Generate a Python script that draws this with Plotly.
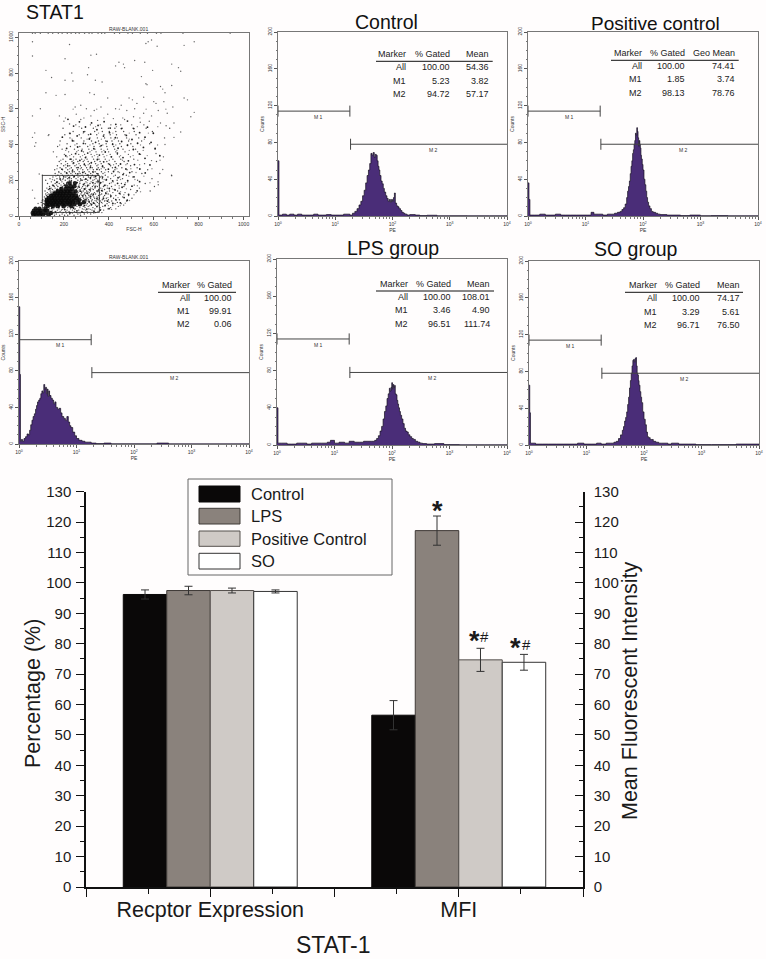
import math
import plotly.graph_objects as go

W, H = 766, 959
FONT = "Liberation Sans"

# ---------- bar chart data ----------
GROUPS = ["Recptor Expression", "MFI"]
GROUP_POS = [1, 2]
BAR_NAMES = ["Control", "LPS", "Positive Control", "SO"]
VAL_CONTROL = [96.2, 56.5]
VAL_LPS = [97.5, 117.2]
VAL_POSITIVE = [97.5, 74.7]
VAL_SO = [97.2, 73.9]
ERR_CONTROL = [1.5, 4.8]
ERR_LPS = [1.4, 4.8]
ERR_POSITIVE = [0.8, 3.8]
ERR_SO = [0.5, 2.6]
BAR_TICKS = list(range(0, 131, 10))

# ---------- histogram data: (PE, counts) ----------
HIST_CONTROL = [(1,60),(1.04,1),(1.2,2),(1.4,1),(1.6,2),(1.9,1),(2.2,2),(2.6,1),(3,1),(3.6,1),(4.2,2),(5,1),(6,1),(7,1.5),(8.5,1),(10,1),(12,1),(14,2),(16,2),(18,1),(20,3),(22,5),(24,8),(26,12),(28,16),(30,22),(32,28),(34,36),(36,44),(38,50),(40,57),(42,68),(44,66),(46,69),(48,64),(50,67),(52,66),(54,60),(56,54),(58,50),(60,44),(63,38),(66,35),(69,30),(72,26),(76,22),(80,19),(84,16),(88,18),(92,15),(96,18),(100,16),(104,20),(108,25),(112,14),(118,11),(124,10),(130,8),(138,6),(146,4),(155,3),(165,2),(180,1),(200,1.5),(250,1),(300,0.5),(400,0.8),(600,0.3),(1000,0.4),(2000,0.3),(5000,0.3),(10000,0)]
HIST_POSITIVE = [(1,36),(1.04,18),(1.08,1),(1.3,1),(1.6,2),(2,1),(2.5,1),(3,2),(3.7,1),(4.5,1),(5.5,1),(7,1),(9,1),(11,1),(12.5,4),(14,2),(17,2),(20,1),(24,2),(28,2),(32,3),(36,4),(40,5),(43,7),(46,9),(49,13),(52,20),(54,27),(56,32),(58,38),(60,46),(62,54),(64,60),(66,68),(68,72),(70,78),(72,82),(74,90),(76,88),(78,96),(80,92),(82,85),(84,76),(86,82),(88,78),(90,74),(92,66),(94,62),(97,56),(100,50),(104,40),(108,34),(112,27),(116,20),(120,15),(125,11),(132,8),(140,5),(150,4),(165,3),(180,2),(200,1.5),(260,1),(320,1),(450,0.5),(650,1),(1000,0.4),(1500,0.5),(3000,0.3),(10000,0)]
HIST_BLANK = [(1,150),(1.03,76),(1.06,3),(1.1,5),(1.15,3),(1.22,6),(1.3,8),(1.38,11),(1.46,10),(1.53,15),(1.6,21),(1.68,26),(1.76,30),(1.85,33),(1.94,38),(2.02,42),(2.1,46),(2.2,48),(2.3,50),(2.4,55),(2.5,58),(2.6,56),(2.7,65),(2.8,60),(2.9,62),(3,55),(3.1,60),(3.2,52),(3.3,58),(3.4,53),(3.6,50),(3.8,48),(4,44),(4.2,46),(4.4,40),(4.7,38),(5,39),(5.3,34),(5.6,30),(6,28),(6.4,26),(6.8,30),(7.2,24),(7.6,20),(8,18),(8.6,13),(9.3,9),(10,6),(11,4),(12.5,3),(14,2),(16,2),(18,1),(22,0.5),(30,1),(40,0.3),(100,0.3),(250,1),(400,0.2),(10000,0)]
HIST_LPS = [(1,40),(1.04,2),(1.2,2),(1.5,1),(1.8,1),(2.2,2),(2.7,2),(3.3,1),(4,2),(5,2),(6,2),(7.5,3),(8.5,5),(10,2),(12,3),(15,2),(18,4),(22,3),(27,3),(32,4),(38,4),(44,4),(50,5),(54,7),(58,10),(62,15),(66,20),(70,28),(74,36),(78,42),(82,50),(86,55),(90,61),(93,58),(96,62),(99,67),(102,60),(105,65),(108,62),(111,64),(114,55),(118,54),(122,48),(126,44),(130,40),(135,36),(140,32),(147,28),(155,23),(163,18),(172,15),(182,14),(192,11),(205,9),(220,7),(235,6),(255,4),(280,3),(307,2),(340,1.5),(400,1),(550,1.5),(800,0.5),(1500,0.3),(4000,0.3),(10000,0)]
HIST_SO = [(1,65),(1.03,35),(1.06,2),(1.3,1),(1.7,1),(2.2,1),(3,1),(4,1),(5,1),(7,2),(9,1),(12,1),(15,2),(18,1),(22,2),(26,2),(30,3),(33,4),(36,7),(39,11),(42,16),(44,20),(46,26),(48,30),(50,36),(52,44),(54,52),(56,62),(58,70),(60,78),(62,86),(64,92),(66,93),(68,90),(70,94),(72,95),(74,86),(76,78),(78,76),(80,70),(82,65),(85,58),(88,52),(91,46),(95,36),(100,28),(105,22),(110,14),(115,9),(120,8),(128,6),(137,6),(145,4),(160,3),(180,2),(200,2),(260,1),(300,2),(400,1),(600,1),(800,0.5),(1500,0.5),(4000,1),(10000,0)]

# marker gates (PE limits, count level)
M1_RANGE = [1, 18]
M2_RANGE = [18.5, 10000]
M1_LEVEL = 114
M2_LEVEL = 78
M1_LABEL = (5.2, 108)
M2_LABEL = (512, 72)

# ---------- statistics tables ----------
STATS_CONTROL = [["Marker", "% Gated", "Mean"], ["All", "100.00", "54.36"], ["M1", "5.23", "3.82"], ["M2", "94.72", "57.17"]]
STATS_POSITIVE = [["Marker", "% Gated", "Geo Mean"], ["All", "100.00", "74.41"], ["M1", "1.85", "3.74"], ["M2", "98.13", "78.76"]]
STATS_BLANK = [["Marker", "% Gated"], ["All", "100.00"], ["M1", "99.91"], ["M2", "0.06"]]
STATS_LPS = [["Marker", "% Gated", "Mean"], ["All", "100.00", "108.01"], ["M1", "3.46", "4.90"], ["M2", "96.51", "111.74"]]
STATS_SO = [["Marker", "% Gated", "Mean"], ["All", "100.00", "74.17"], ["M1", "3.29", "5.61"], ["M2", "96.71", "76.50"]]

# ---------- FSC/SSC dot plot ----------
GATE_FSC = [104, 358, 358, 104, 104]
GATE_SSC = [20, 20, 227, 227, 20]
# darkest core, by SSC row: FSC values
CORE_ROWS = {
    6: [64, 76, 93, 107, 131],
    17: [61, 72, 86, 99, 118, 142],
    29: [66, 83, 97, 112, 126],
    41: [74, 91, 118],
    55: [128, 151, 172, 199, 233],
    66: [122, 137, 149, 163, 178, 194, 211, 226, 247, 271],
    77: [127, 141, 156, 168, 183, 197, 214, 229, 241, 262, 289],
    89: [124, 136, 149, 161, 175, 188, 203, 217, 232, 249, 268],
    101: [131, 146, 158, 172, 186, 199, 213, 226, 243, 258],
    113: [143, 155, 167, 181, 194, 208, 223, 237, 254],
    126: [158, 171, 184, 197, 211, 226, 243],
    138: [172, 186, 201, 216, 229, 252],
    151: [189, 207, 223, 238],
    167: [213, 231, 247],
    184: [226, 249],
}
# medium density cloud, by SSC row: FSC values
CLOUD_ROWS = {
    4: [139, 158, 181, 203, 217, 245, 274],
    11: [147, 166, 192, 226, 262, 291, 319],
    19: [135, 152, 174, 197, 231, 255, 288, 341, 369],
    26: [142, 161, 183, 208, 223, 247, 279, 303, 352],
    33: [129, 148, 171, 189, 214, 238, 266, 297, 325, 377],
    40: [137, 155, 178, 201, 229, 251, 282, 311, 338, 396, 431],
    47: [108, 149, 166, 192, 217, 243, 271, 294, 329, 361, 408],
    54: [114, 141, 181, 219, 258, 286, 308, 347, 373, 442],
    61: [103, 118, 251, 276, 299, 322, 341, 384, 417, 466],
    69: [109, 126, 283, 304, 318, 337, 356, 392, 428, 455],
    76: [99, 121, 277, 296, 313, 331, 349, 367, 401, 438],
    84: [112, 118, 285, 302, 323, 344, 362, 381, 413, 479],
    91: [106, 119, 277, 291, 309, 326, 352, 371, 398, 447],
    99: [117, 127, 272, 288, 303, 319, 337, 358, 389, 421, 503],
    107: [113, 129, 268, 284, 298, 316, 333, 347, 376, 408, 462],
    115: [122, 136, 269, 281, 296, 311, 329, 354, 381, 431, 488],
    123: [119, 133, 147, 259, 276, 292, 307, 323, 341, 368, 397, 451],
    131: [126, 142, 153, 263, 279, 294, 313, 336, 359, 386, 418, 472, 521],
    140: [116, 139, 156, 166, 268, 286, 301, 318, 346, 372, 403, 439, 584],
    148: [131, 149, 168, 178, 255, 272, 293, 312, 331, 354, 381, 424, 497],
    156: [124, 143, 161, 181, 261, 279, 297, 319, 338, 364, 393, 446, 536],
    165: [136, 157, 173, 193, 264, 283, 304, 327, 349, 376, 412, 467, 603],
    173: [149, 168, 187, 203, 267, 289, 311, 333, 358, 386, 428, 513],
    182: [127, 161, 179, 199, 212, 271, 292, 316, 339, 362, 403, 456, 562],
    191: [144, 172, 191, 217, 271, 298, 321, 344, 374, 419, 484, 619],
    200: [119, 158, 186, 206, 224, 262, 282, 306, 329, 351, 388, 437, 528],
    209: [138, 169, 197, 216, 233, 254, 274, 297, 318, 343, 371, 408, 461, 592],
    218: [151, 181, 208, 226, 243, 263, 287, 309, 334, 362, 396, 448, 507],
    228: [104, 173, 193, 219, 237, 258, 281, 302, 327, 353, 384, 429, 478, 679],
    238: [161, 187, 213, 231, 252, 272, 296, 319, 346, 374, 413, 466, 547, 627],
    248: [177, 204, 224, 246, 268, 291, 312, 339, 367, 398, 441, 503],
    259: [159, 194, 217, 239, 261, 284, 306, 331, 358, 386, 427, 481, 573],
    270: [183, 209, 233, 256, 278, 301, 326, 353, 379, 416, 458, 526],
    281: [171, 199, 226, 249, 273, 296, 319, 347, 372, 408, 443, 497],
    293: [188, 216, 241, 267, 291, 314, 341, 366, 398, 433, 482, 559],
    305: [179, 208, 236, 262, 286, 308, 337, 361, 391, 427, 468, 612],
    318: [196, 226, 254, 279, 303, 332, 356, 384, 418, 453, 511],
    331: [168, 214, 243, 273, 298, 326, 351, 379, 412, 447, 496, 643],
    345: [202, 234, 266, 292, 321, 347, 374, 406, 438, 487, 541],
    359: [153, 221, 257, 287, 316, 343, 369, 399, 431, 472, 528],
    374: [192, 247, 281, 311, 338, 366, 394, 426, 463, 519, 606],
    389: [172, 229, 271, 306, 334, 361, 391, 422, 456, 507],
    404: [214, 258, 296, 329, 357, 388, 417, 449, 498, 582],
    420: [183, 244, 289, 323, 354, 386, 414, 443, 488, 546],
    437: [227, 277, 316, 349, 381, 409, 438, 479, 533, 648],
    455: [133, 204, 268, 309, 346, 378, 406, 434, 472, 521],
    473: [241, 293, 337, 371, 402, 431, 466, 513, 594],
    491: [196, 279, 331, 368, 398, 427, 459, 508, 566, 671],
    510: [253, 318, 362, 409, 453, 502, 556],
}
# fainter grey dots filling the same cloud, by SSC row: FSC values
HAZE_ROWS = {
    15: [156, 211, 238, 272, 305, 333],
    37: [118, 193, 247, 289, 318, 364, 412],
    58: [136, 207, 268, 314, 352, 398, 451],
    72: [113, 174, 289, 325, 371, 416, 473],
    87: [103, 297, 338, 388, 433, 492],
    103: [138, 276, 308, 351, 396, 441],
    119: [128, 287, 318, 362, 407, 467, 512],
    136: [147, 279, 307, 349, 392, 452, 541],
    152: [137, 171, 288, 326, 371, 416, 478],
    169: [155, 199, 296, 342, 394, 446, 527],
    186: [169, 222, 303, 351, 411, 474, 583],
    204: [149, 194, 291, 336, 379, 452, 516],
    223: [164, 214, 271, 323, 368, 421, 489, 556],
    243: [178, 238, 284, 331, 382, 447, 521],
    264: [169, 226, 273, 316, 366, 436, 498, 592],
    287: [207, 256, 308, 352, 421, 476, 537],
    312: [186, 242, 291, 348, 402, 461, 529, 628],
    338: [226, 283, 336, 391, 452, 508, 571],
    367: [208, 264, 324, 378, 436, 491, 553],
    397: [181, 249, 316, 373, 431, 483, 541, 617],
    430: [236, 303, 367, 424, 491, 558],
    464: [224, 286, 354, 418, 491, 576],
    500: [268, 341, 434, 527, 618],
    548: [207, 289, 378, 462, 538],
    598: [241, 346, 447, 566, 654],
}
# irregular dark specks inside and just above the gate, as (FSC, SSC)
SPECKS = [(112,31),(131,58),(118,83),(146,43),(163,22),(177,49),(204,36),(226,17),(258,29),(243,44),(281,22),(302,39),(334,27),
          (347,53),(323,64),(291,58),(312,81),(333,72),(276,68),(298,93),(347,97),(319,109),(284,113),(303,128),(331,122),(352,141),
          (274,139),(292,151),(316,147),(339,163),(268,162),(287,177),(306,171),(329,186),(352,193),(259,187),(276,201),(298,206),
          (318,214),(341,221),(233,197),(214,186),(203,173),(186,159),(171,147),(158,132),(143,121),(128,108),(119,96),(137,153),
          (152,171),(168,189),(183,207),(199,219),(223,214),(246,221),(262,236),(284,244),(307,229),(329,247),(351,236),(372,218),
          (389,203),(364,187),(381,171),(402,154),(368,142),(387,126),(409,112),(376,98),(394,83),(418,71),(383,58),(401,41),(362,33),
          (431,92),(447,127),(428,146),(459,161),(439,183),(417,197),(441,214),(463,232),(421,249),(398,262),(372,277),(347,261),
          (318,273),(291,288),(263,271),(238,252),(212,241),(191,262),(217,281),(243,297),(271,311),(296,327),(322,298),(349,317),
          (377,303),(403,289),(429,272),(452,291),(476,263),(493,243),(512,219),(537,192),(484,198),(471,176),(503,167),(526,141),
          (488,121),(468,103),(451,74),(482,88),(231,318),(208,337),(252,349),(279,364),(306,352),(333,377),(358,341),(384,358),
          (411,331),(438,352),(463,327),(487,309),(514,288),(538,263),(562,241),(441,379),(417,401),(392,418),(366,394),(341,412),
          (313,431),(287,406),(261,386),(238,421),(212,378),(193,441),(227,462),(259,448),(288,471),(319,458),(347,483),(376,447),
          (403,466),(429,438),(457,417),(483,396),(509,372),(536,347),(561,323),(583,286),(478,451),(503,428),(528,407),(554,384),
          (456,489),(431,513),(406,492),(379,528),(352,507),(323,521),(296,498),(269,527),(243,503),(218,541),(483,531),(511,489),
          (537,466),(561,441),(588,412),(606,378),(627,337),(572,497),(598,463)]

CORE_X = [x for row in CORE_ROWS.values() for x in row]
CORE_Y = [y for y, row in CORE_ROWS.items() for _ in row]
CLOUD_X = [x for row in CLOUD_ROWS.values() for x in row]
CLOUD_Y = [y for y, row in CLOUD_ROWS.items() for _ in row]
HAZE_X = [x for row in HAZE_ROWS.values() for x in row]
HAZE_Y = [y for y, row in HAZE_ROWS.items() for _ in row]
# sparse outliers as (FSC, SSC)
SPARSE = [(60,975),(225,960),(320,900),(345,905),(60,895),(205,880),(575,975),(590,985),(615,950),(565,965),(735,955),(780,975),
          (120,815),(145,775),(235,800),(205,760),(240,755),(310,830),(305,790),(340,760),(370,750),(430,840),(445,860),(465,850),
          (470,830),(515,870),(560,860),(595,815),(680,850),(710,830),(720,810),(545,780),(565,740),(570,735),(630,725),(640,710),
          (680,730),(650,690),(120,690),(165,675),(205,680),(315,690),(335,680),(395,660),(490,660),(505,650),(525,630),(555,665),
          (600,640),(610,630),(645,640),(735,660),(750,650),(685,610),(95,600),(60,560),(780,580),(765,555),(250,610),(275,620),
          (255,570),(275,540),(180,560),(200,530),(225,515),(300,600),(335,590),(365,610),(395,570),(430,600),(455,620),(480,590),
          (515,600),(555,575),(590,560),(620,590),(660,575),(690,520),(320,560),(350,535),(420,545),(470,540),(510,555),(540,525),
          (580,530),(630,520),(655,505),(70,465),(60,440),(75,410),(130,450),(70,390),(90,235),(60,145),(70,100),(85,70),(680,225),
          (620,175),(640,260),(590,310),(610,350),(650,400),(690,440),(720,470),
          (60,1022),(72,1022),(95,1022),(130,1022),(150,1022),(175,1022),(192,1022),(215,1022),(232,1022),(252,1022),(268,1022),
          (292,1022),(312,1022),(325,1022),(352,1022),(368,1022),(382,1022),(425,1022),(448,1022),(485,1022),(505,1022),(540,1022),
          (572,1022),(612,1022),(632,1022),(730,1022),(940,1022)]

# ---------- layout constants (pixels) ----------
PANELS = {
    "scatter": (19, 249, 33, 216),
    "control": (278, 507, 32, 216),
    "positive": (528, 758, 32, 216),
    "blank": (19, 249, 261, 444),
    "lps": (277, 507, 259, 445),
    "so": (529, 759, 261, 445),
}
BAR_BOX = (86, 583, 491.7, 887)
FRAME = "#777777"
PURPLE = "#4a2d78"
PAPER = "#fffdfd"
LEGEND_BOX = (188, 392, 479, 575)
LEGEND_SWATCH_X = (199, 240)
LEGEND_ROWS = [(486, 502), (508.3, 524), (531, 546.3), (553.3, 569)]
LEGEND_TEXT_X = 250


def fx(p):
    return p / W


def fy(p):
    return 1 - p / H


def note(px, py, text, size, anchor="center", color="#1a1a1a", angle=0):
    return dict(text=text, x=fx(px), y=fy(py), xref="paper", yref="paper", showarrow=False,
                xanchor=anchor, yanchor="middle", textangle=angle, borderpad=0,
                font=dict(family=FONT, size=size, color=color))


fig = go.Figure()
layout = dict(width=W, height=H, margin=dict(l=0, r=0, t=0, b=0, autoexpand=False), paper_bgcolor=PAPER,
              plot_bgcolor="rgba(0,0,0,0)", font=dict(family=FONT), barmode="group", bargap=0.3, bargroupgap=0,
              showlegend=False)
annotations, shapes = [], []


def axis_common():
    return dict(showgrid=False, zeroline=False, showline=True, linecolor=FRAME, linewidth=1, mirror=True,
                ticks="outside", ticklen=3, tickwidth=1, tickcolor="#555555", automargin=False,
                tickfont=dict(size=5, color="#333333", family=FONT))


def set_axes(n, box, xtitle, ytitle, xextra, yextra):
    l, r, t, b = box
    xa = axis_common()
    xa.update(domain=[fx(l), fx(r)], anchor=f"y{n}", title=dict(text=xtitle, standoff=1, font=dict(size=5, color="#333333")))
    xa.update(xextra)
    ya = axis_common()
    ya.update(domain=[fy(b), fy(t)], anchor=f"x{n}", tickangle=-90, title=dict(text=ytitle, standoff=2, font=dict(size=5, color="#333333")))
    ya.update(yextra)
    layout[f"xaxis{n}"] = xa
    layout[f"yaxis{n}"] = ya


# dot plot
fig.add_trace(go.Scatter(x=HAZE_X, y=HAZE_Y, mode="markers", xaxis="x1", yaxis="y1",
                         marker=dict(size=1.4, color="#8a8a8a"), showlegend=False))
fig.add_trace(go.Scatter(x=[p[0] for p in SPARSE], y=[p[1] for p in SPARSE], mode="markers", xaxis="x1", yaxis="y1",
                         marker=dict(size=1.4, color="#666666"), showlegend=False))
fig.add_trace(go.Scatter(x=CLOUD_X, y=CLOUD_Y, mode="markers", xaxis="x1", yaxis="y1",
                         marker=dict(size=1.4, color="#4a4a4a"), showlegend=False))
fig.add_trace(go.Scatter(x=[p[0] for p in SPECKS], y=[p[1] for p in SPECKS], mode="markers", xaxis="x1", yaxis="y1",
                         marker=dict(size=1.8, color="#222222"), showlegend=False))
fig.add_trace(go.Scatter(x=CORE_X, y=CORE_Y, mode="markers", xaxis="x1", yaxis="y1",
                         marker=dict(size=4.4, color="#0a0a0a", opacity=0.9), showlegend=False))
fig.add_trace(go.Scatter(x=GATE_FSC, y=GATE_SSC, mode="lines", xaxis="x1", yaxis="y1",
                         line=dict(color="#222222", width=0.8), showlegend=False))
set_axes(1, PANELS["scatter"], "FSC-H", "SSC-H",
         dict(range=[0, 1024], tickvals=[0, 200, 400, 600, 800, 1000], minor=dict(dtick=50, ticks="outside", ticklen=1.5, tickcolor="#777777")),
         dict(range=[0, 1024], tickvals=[0, 200, 400, 600, 800, 1000], minor=dict(dtick=50, ticks="outside", ticklen=1.5, tickcolor="#777777")))

DECADES = [1, 10, 100, 1000, 10000]
MINOR_PE = [d * k for d in DECADES[:-1] for k in range(2, 10)]
COUNT_TICKS = [0, 40, 80, 120, 160, 200]

PANEL_DATA = [
    (2, "control", HIST_CONTROL, STATS_CONTROL, (407.3, 450.7, 490), (53.7, 67, 80.7, 94), (61.3, 376, 492.7)),
    (3, "positive", HIST_POSITIVE, STATS_POSITIVE, (643.3, 686, 736), (52.7, 66, 79.3, 92.7), (60.3, 611, 738.7)),
    (4, "blank", HIST_BLANK, STATS_BLANK, (191, 233), (284.7, 298, 311, 324.3), (292.3, 158, 236)),
    (5, "lps", HIST_LPS, STATS_LPS, (408.7, 452, 491.3), (283.7, 297, 310.3, 323.5), (291, 376, 494)),
    (6, "so", HIST_SO, STATS_SO, (657.7, 701, 740.7), (285, 298.3, 311.7, 324.7), (292.3, 625, 743)),
]

for n, key, hist, stats, cols, rows, rule in PANEL_DATA:
    xa, ya = f"x{n}", f"y{n}"
    fig.add_trace(go.Scatter(x=[p[0] for p in hist], y=[p[1] for p in hist], mode="lines", xaxis=xa, yaxis=ya,
                             line=dict(color="#15101f", width=0.7, shape="hv"), fill="tozeroy", fillcolor=PURPLE,
                             showlegend=False))
    for rng, lvl, end in ((M1_RANGE, M1_LEVEL, M1_RANGE[1]), (M2_RANGE, M2_LEVEL, M2_RANGE[0])):
        fig.add_trace(go.Scatter(x=rng, y=[lvl, lvl], mode="lines", xaxis=xa, yaxis=ya,
                                 line=dict(color="#444444", width=1), showlegend=False))
        fig.add_trace(go.Scatter(x=[end, end], y=[lvl - 6, lvl + 6], mode="lines", xaxis=xa, yaxis=ya,
                                 line=dict(color="#444444", width=1), showlegend=False))
    fig.add_trace(go.Scatter(x=[1, 1], y=[M1_LEVEL - 6, M1_LEVEL + 6], mode="lines", xaxis=xa, yaxis=ya,
                             line=dict(color="#444444", width=1), showlegend=False))
    for txt, pos in (("M 1", M1_LABEL), ("M 2", M2_LABEL)):
        annotations.append(dict(text=txt, x=math.log10(pos[0]), y=pos[1], xref=xa, yref=ya, showarrow=False,
                                font=dict(size=5, color="#333333", family=FONT)))
    set_axes(n, PANELS[key], "PE", "Counts",
             dict(type="log", range=[0, 4], tickvals=DECADES, ticktext=["10<sup>%d</sup>" % i for i in range(5)],
                  minor=dict(tickvals=MINOR_PE, ticks="outside", ticklen=1.5, tickcolor="#777777")),
             dict(range=[0, 200], tickvals=COUNT_TICKS, minor=dict(dtick=10, ticks="outside", ticklen=1.5, tickcolor="#777777")))
    for row, py in zip(stats, rows):
        for cell, px in zip(row, cols):
            annotations.append(note(px, py, cell, 9, "right", "#222222"))
    ry, rx0, rx1 = rule
    shapes.append(dict(type="line", xref="paper", yref="paper", x0=fx(rx0), x1=fx(rx1), y0=fy(ry), y1=fy(ry),
                       line=dict(color="#111111", width=1)))

annotations += [
    note(25, 12, "STAT1", 19.5, "left", "#111111"),
    note(386, 22, "Control", 19.5, "center", "#111111"),
    note(655, 23.5, "Positive control", 19, "center", "#111111"),
    note(392.7, 247.7, "LPS group", 19.5, "center", "#111111"),
    note(635.7, 249, "SO group", 19.5, "center", "#111111"),
    note(128, 29, "RAW-BLANK.001", 5, "center", "#333333"),
    note(128, 256.7, "RAW-BLANK.001", 5, "center", "#333333"),
]

# bar chart
BAR_FILLS = ["#0a0808", "#8a827c", "#cfcac6", "#ffffff"]
BAR_EDGES = ["#0a0808", "#3f3a37", "#55504d", "#333333"]
for name, vals, errs, fill, edge in zip(BAR_NAMES, (VAL_CONTROL, VAL_LPS, VAL_POSITIVE, VAL_SO),
                                        (ERR_CONTROL, ERR_LPS, ERR_POSITIVE, ERR_SO), BAR_FILLS, BAR_EDGES):
    fig.add_trace(go.Bar(name=name, x=GROUP_POS, y=vals, xaxis="x7", yaxis="y7",
                         marker=dict(color=fill, line=dict(color=edge, width=1)),
                         error_y=dict(type="data", array=errs, color="#333333", thickness=1, width=4)))
fig.add_trace(go.Scatter(x=GROUP_POS, y=[0, 0], xaxis="x7", yaxis="y8", mode="markers",
                         marker=dict(opacity=0), showlegend=False, hoverinfo="skip"))

l, r, t, b = BAR_BOX
layout["xaxis7"] = dict(domain=[fx(l), fx(r)], anchor="y7", range=[0.5, 2.5], showgrid=False, zeroline=False,
                        showline=True, linecolor="#111111", linewidth=1.5, automargin=False,
                        tickvals=[0.5, 1, 1.5, 2, 2.5], ticktext=[" ", GROUPS[0], " ", GROUPS[1], " "],
                        ticks="outside", ticklen=8, tickwidth=1.2, tickcolor="#111111", ticklabelstandoff=-6,
                        tickfont=dict(size=21.5, color="#1a1a1a", family=FONT),
                        minor=dict(dtick=0.25, tick0=0.5, ticks="outside", ticklen=5, tickwidth=1.2, tickcolor="#111111"))
layout["yaxis7"] = dict(domain=[fy(b), fy(t)], anchor="x7", range=[0, 130], showgrid=False, zeroline=False,
                        showline=True, linecolor="#111111", linewidth=1.5, tickvals=BAR_TICKS, automargin=False,
                        ticks="outside", ticklen=8, tickwidth=1.2, tickcolor="#111111", ticklabelstandoff=2,
                        tickfont=dict(size=15, color="#1a1a1a", family=FONT),
                        minor=dict(dtick=5, ticks="outside", ticklen=4, tickwidth=1.2, tickcolor="#111111"))
layout["yaxis8"] = dict(overlaying="y7", side="right", anchor="x7", range=[0, 130], showgrid=False, zeroline=False,
                        showline=True, linecolor="#111111", linewidth=1.5, tickvals=BAR_TICKS, automargin=False,
                        ticks="inside", ticklen=8, tickwidth=1.2, tickcolor="#111111", ticklabelstandoff=6,
                        tickfont=dict(size=15, color="#1a1a1a", family=FONT),
                        minor=dict(dtick=5, ticks="inside", ticklen=4, tickwidth=1.2, tickcolor="#111111"))

# legend
lx0, lx1, ly0, ly1 = LEGEND_BOX
shapes.append(dict(type="rect", xref="paper", yref="paper", x0=fx(lx0), x1=fx(lx1), y0=fy(ly1), y1=fy(ly0),
                   line=dict(color="#666666", width=1), fillcolor="rgba(255,255,255,0)"))
for name, fill, edge, (sy0, sy1) in zip(BAR_NAMES, BAR_FILLS, BAR_EDGES, LEGEND_ROWS):
    shapes.append(dict(type="rect", xref="paper", yref="paper", x0=fx(LEGEND_SWATCH_X[0]), x1=fx(LEGEND_SWATCH_X[1]),
                       y0=fy(sy1), y1=fy(sy0), fillcolor=fill, line=dict(color=edge, width=1)))
    annotations.append(note(LEGEND_TEXT_X, (sy0 + sy1) / 2, name, 16.5, "left", "#1a1a1a"))

annotations += [
    note(33, 694, "Percentage (%)", 21.5, "center", "#1a1a1a", -90),
    note(630, 691, "Mean Fluorescent Intensity", 21.5, "center", "#1a1a1a", -90),
    note(333, 945, "STAT-1", 23, "center", "#1a1a1a"),
]
# significance marks, placed through the bar chart's own scales
STAR_X = [-0.0875, 0.0645, 0.2265]
STAR_LEVEL = [123.8, 81, 78.5]
HASH_X = [None, 0.103, 0.2745]
HASH_LEVEL = [None, 82.3, 79.8]
for sx, sl, hx, hl in zip(STAR_X, STAR_LEVEL, HASH_X, HASH_LEVEL):
    annotations.append(dict(text="<b>*</b>", x=GROUP_POS[1] + sx, y=sl, xref="x7", yref="y7", showarrow=False,
                            font=dict(size=27, color="#1a1a1a", family=FONT)))
    if hx is not None:
        annotations.append(dict(text="#", x=GROUP_POS[1] + hx, y=hl, xref="x7", yref="y7", showarrow=False,
                                font=dict(size=15, color="#1a1a1a", family=FONT)))

layout["annotations"] = annotations
layout["shapes"] = shapes
fig.update_layout(**layout)
fig.write_html("out.html", config={"displayModeBar": False},
               post_script="document.body.style.margin='0';document.body.style.overflow='hidden';")
